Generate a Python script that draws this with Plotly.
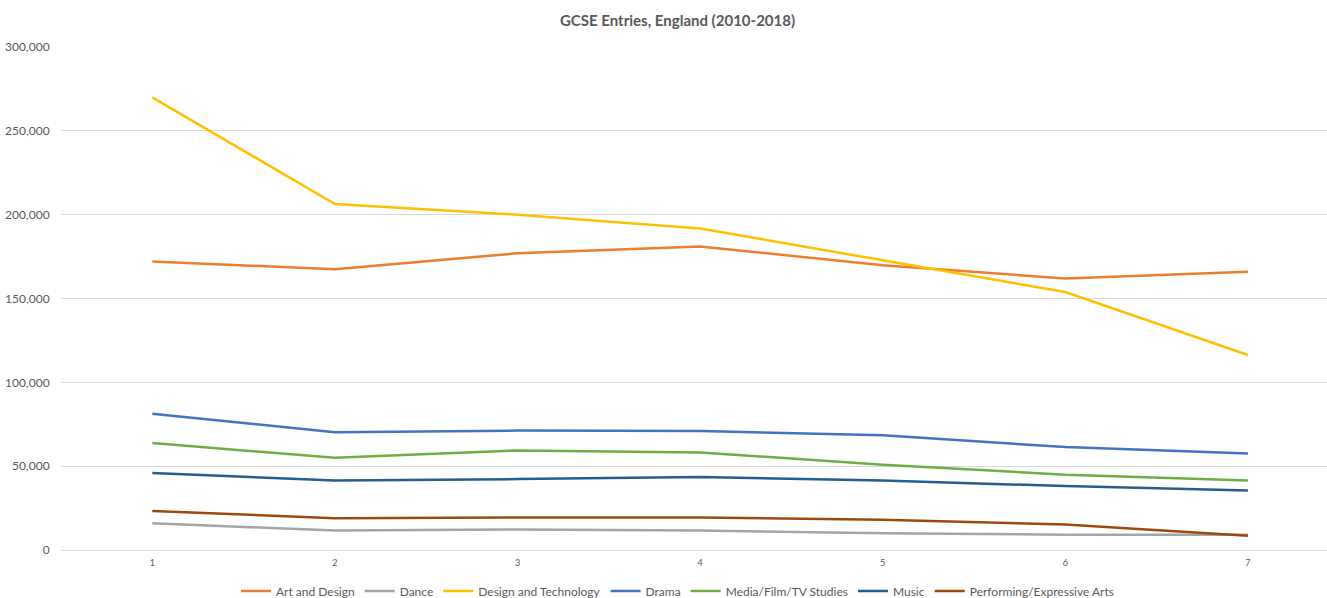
import plotly.graph_objects as go

x_points = [1, 2, 3, 4, 5, 6, 7]
art_design = [172000, 167500, 177000, 181000, 169900, 161900, 165900]
dance = [15900, 11600, 12200, 11600, 10000, 9100, 9100]
design_tech = [270000, 206300, 200000, 191800, 172800, 153900, 116300]
drama = [81300, 70300, 71200, 71000, 68400, 61400, 57600]
media = [63800, 55000, 59400, 58200, 50900, 44900, 41500]
music = [45900, 41500, 42300, 43500, 41500, 38100, 35500]
performing = [23200, 19000, 19400, 19400, 18000, 15200, 8500]

series = [
    ("Art and Design", art_design, "#ED7D31"),
    ("Dance", dance, "#A5A5A5"),
    ("Design and Technology", design_tech, "#FFC000"),
    ("Drama", drama, "#4472C4"),
    ("Media/Film/TV Studies", media, "#70AD47"),
    ("Music", music, "#255E91"),
    ("Performing/Expressive Arts", performing, "#9E480E"),
]

fig = go.Figure()
for name, vals, color in series:
    fig.add_trace(go.Scatter(x=x_points, y=vals, mode="lines", name=name,
                             line=dict(color=color, width=2.5)))

fig.update_layout(
    width=1327, height=598,
    margin=dict(l=61, r=0, t=47, b=48, autoexpand=False),
    paper_bgcolor="white", plot_bgcolor="white",
    font=dict(family="Lato, Open Sans, sans-serif", color="#595959"),
    title=dict(text="<b>GCSE Entries, England (2010-2018)</b>", x=677.5 / 1327, xanchor="center",
               xref="container", yref="container", y=1 - 21 / 598, yanchor="middle",
               font=dict(size=15, color="#595959", family="Lato, Open Sans, sans-serif")),
    showlegend=True,
    legend=dict(orientation="h", x=677.5 / 1327, xanchor="center", xref="container",
                yref="container", y=1 - 591 / 598, yanchor="middle",
                font=dict(size=12, color="#595959"), itemwidth=30, tracegroupgap=0),
    xaxis=dict(range=[0.5, 7.433], tickvals=x_points, ticktext=[str(v) for v in x_points],
               showgrid=False, zeroline=False, showline=False, automargin=False,
               ticks="outside", ticklen=4, tickcolor="white",
               tickfont=dict(size=9, color="#595959")),
    yaxis=dict(range=[0, 300000], tickvals=[0, 50000, 100000, 150000, 200000, 250000, 300000],
               tickformat=",", showgrid=True, gridcolor="#D9D9D9", gridwidth=1,
               zeroline=True, zerolinecolor="#D9D9D9", zerolinewidth=1, showline=False,
               automargin=False,
               ticks="outside", ticklen=8, tickcolor="white",
               tickfont=dict(size=12, color="#595959")),
)

fig.write_html("out.html")
